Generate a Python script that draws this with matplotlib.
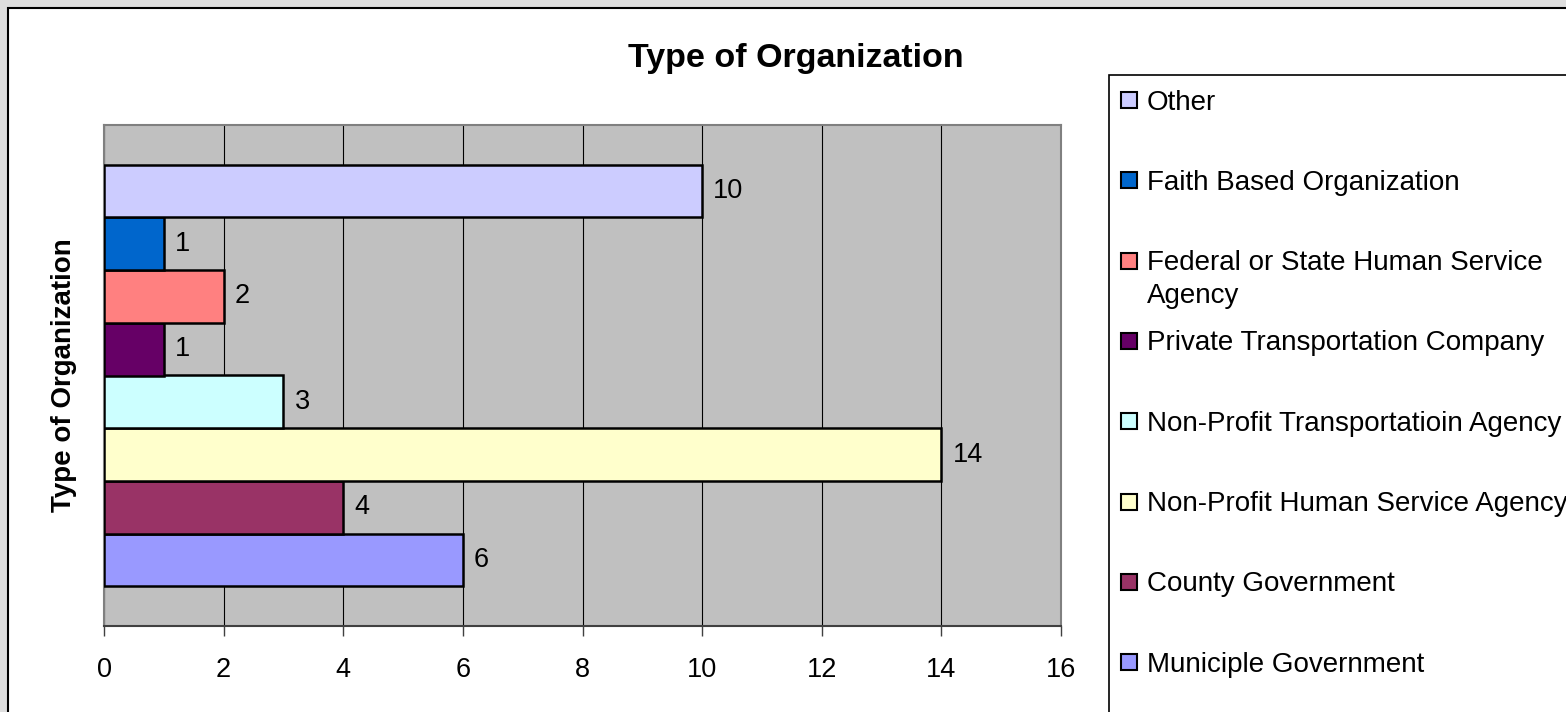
import matplotlib.pyplot as plt
from matplotlib.patches import Rectangle

plt.rcParams['font.family'] = ['Liberation Sans', 'DejaVu Sans']

# categories from bottom to top of the chart
categories = ['Municiple Government', 'County Government', 'Non-Profit Human Service Agency',
              'Non-Profit Transportatioin Agency', 'Private Transportation Company',
              'Federal or State Human Service\nAgency', 'Faith Based Organization', 'Other']
counts = [6, 4, 14, 3, 1, 2, 1, 10]
colors = ['#9999FF', '#993366', '#FFFFCC', '#CCFFFF', '#660066', '#FF8080', '#0066CC', '#CCCCFF']
xticks = [0, 2, 4, 6, 8, 10, 12, 14, 16]

W, H = 1566, 712
fig = plt.figure(figsize=(W / 100, H / 100), dpi=100, facecolor='#dedede')

# white chart area with black border (runs past right and bottom edge)
fig.patches.append(Rectangle((8 / W, -0.1), 1.2, 1 - 8 / H + 0.1, transform=fig.transFigure,
                             facecolor='white', edgecolor='black', linewidth=1.5, zorder=-2))

ax = fig.add_axes([104 / W, 1 - 626 / H, 957 / W, 501 / H])
ax.set_facecolor('#c0c0c0')

ypos = list(range(len(counts)))
bars = ax.barh(ypos, counts, height=1.0, color=colors, edgecolor='black', linewidth=1.8, zorder=3)
ax.bar_label(bars, padding=8, fontsize=19.5)

ax.set_xlim(0, 16)
ax.set_ylim(-1.25, 8.25)
ax.set_xticks(xticks)
ax.set_yticks([])
ax.xaxis.grid(True, color='black', linewidth=0.8, zorder=1)
ax.tick_params(axis='x', direction='out', length=7, width=1, color='#404040',
               labelsize=19.5, pad=15)
for s in ['top', 'right', 'left']:
    ax.spines[s].set_color('#808080')
    ax.spines[s].set_linewidth(1.5)
ax.spines['bottom'].set_color('#404040')
ax.spines['bottom'].set_linewidth(1.5)

ax.set_ylabel('Type of Organization', fontsize=20, fontweight='bold')
ax.yaxis.set_label_coords(-0.028, 0.5)

fig.text(796 / W, 1 - 58 / H, 'Type of Organization', fontsize=24.5, fontweight='bold',
         ha='center', va='center')

# legend box, drawn by hand so the entries keep Excel's fixed spacing
fig.patches.append(Rectangle((1109 / W, -0.1), 0.5, 1 - 75 / H + 0.1, transform=fig.transFigure,
                             facecolor='white', edgecolor='black', linewidth=1.2, zorder=1))
for i in range(len(categories)):
    k = len(categories) - 1 - i
    yc = 100 + i * 80.3
    fig.patches.append(Rectangle((1121 / W, 1 - (yc + 8) / H), 16 / W, 16 / H,
                                 transform=fig.transFigure, facecolor=colors[k],
                                 edgecolor='black', linewidth=1.5, zorder=2))
    # wrapped labels keep the first line next to the square
    for j, line in enumerate(categories[k].split('\n')):
        fig.text(1147 / W, 1 - (yc + 9.5 + 33 * j) / H, line, fontsize=20,
                 ha='left', va='baseline', zorder=3)

fig.savefig('out.png', dpi=100, facecolor=fig.get_facecolor())
